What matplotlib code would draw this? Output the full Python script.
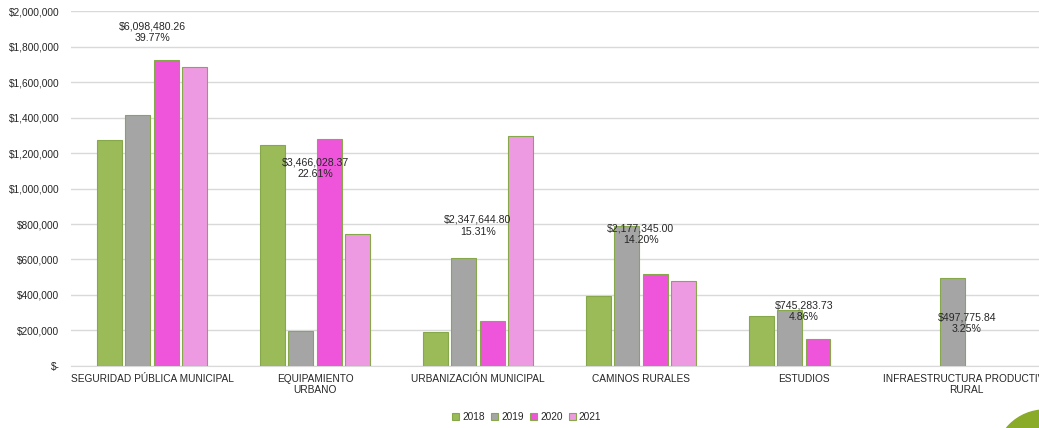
import matplotlib
matplotlib.use('Agg')
import matplotlib.pyplot as plt
from matplotlib.ticker import FuncFormatter
from matplotlib.patches import Ellipse
import numpy as np

plt.rcParams['font.family'] = ['Liberation Sans', 'DejaVu Sans']

# data
categorias = ['SEGURIDAD PÚBLICA MUNICIPAL', 'EQUIPAMIENTO\nURBANO', 'URBANIZACIÓN MUNICIPAL',
              'CAMINOS RURALES', 'ESTUDIOS', 'INFRAESTRUCTURA PRODUCTIVA\nRURAL']
anios = ['2018', '2019', '2020', '2021']
v2018 = [1273000, 1245000, 190000, 394000, 282000, 0]
v2019 = [1414000, 197000, 608000, 789000, 315000, 497775.84]
v2020 = [1724000, 1279000, 253000, 518000, 152000, 0]
v2021 = [1687480, 745028, 1296645, 476345, 0, 0]
totales = ['$6,098,480.26', '$3,466,028.37', '$2,347,644.80', '$2,177,345.00', '$745,283.73', '$497,775.84']
porcentajes = ['39.77%', '22.61%', '15.31%', '14.20%', '4.86%', '3.25%']
# where the total labels sit (y of the label centre)
label_y = [1880000, 1115000, 790000, 740000, 310000, 240000]

colores = ['#9BBB59', '#A5A5A5', '#EE55DA', '#EE9AE2']
borde = '#86A84A'
texto = '#262626'

fig = plt.figure(figsize=(10.39, 4.28), dpi=100)
ax = fig.add_axes([0.0679, 0.145, 0.941, 0.829])

x = np.arange(len(categorias))
paso = 0.174
ancho = 0.153
series = [v2018, v2019, v2020, v2021]
for i, (serie, c) in enumerate(zip(series, colores)):
    vals = np.array(serie, dtype=float)
    xs = x + (i - 1.5) * paso
    mask = vals > 0
    ax.bar(xs[mask], vals[mask], width=ancho, color=c, edgecolor=borde, linewidth=0.8,
           label=anios[i], zorder=3)

for i in range(len(categorias)):
    ax.text(x[i], label_y[i], totales[i] + '\n' + porcentajes[i], ha='center', va='center',
            fontsize=7.6, color=texto, linespacing=1.2, zorder=5)

ax.set_xlim(-0.5, 5.5)
ax.set_ylim(0, 2000000)
ax.set_yticks(np.arange(0, 2000001, 200000))
ax.yaxis.set_major_formatter(FuncFormatter(lambda v, p: '$-' if v == 0 else '${:,.0f}'.format(v)))
ax.set_xticks(x)
ax.set_xticklabels(categorias, fontsize=7.3, color=texto, linespacing=1.1)
ax.tick_params(axis='y', labelsize=7.3, labelcolor=texto, length=0, pad=8)
ax.tick_params(axis='x', length=0, pad=6)
ax.grid(axis='y', color='#D9D9D9', linewidth=1, zorder=0)
for s in ['top', 'right', 'left']:
    ax.spines[s].set_visible(False)
ax.spines['bottom'].set_color('#D9D9D9')

fig.legend(loc='center', bbox_to_anchor=(0.507, 0.026), ncol=4, frameon=False, fontsize=7.3,
           handlelength=0.7, handleheight=0.7, handletextpad=0.3, columnspacing=0.6,
           labelcolor=texto)

# decorative green circle in the lower right corner
fig.patches.append(Ellipse((1045 / 1039, -32 / 428), 100 / 1039, 100 / 428,
                           transform=fig.transFigure, color='#8AAA2A', figure=fig, zorder=10))

fig.savefig('out.png', dpi=100)
